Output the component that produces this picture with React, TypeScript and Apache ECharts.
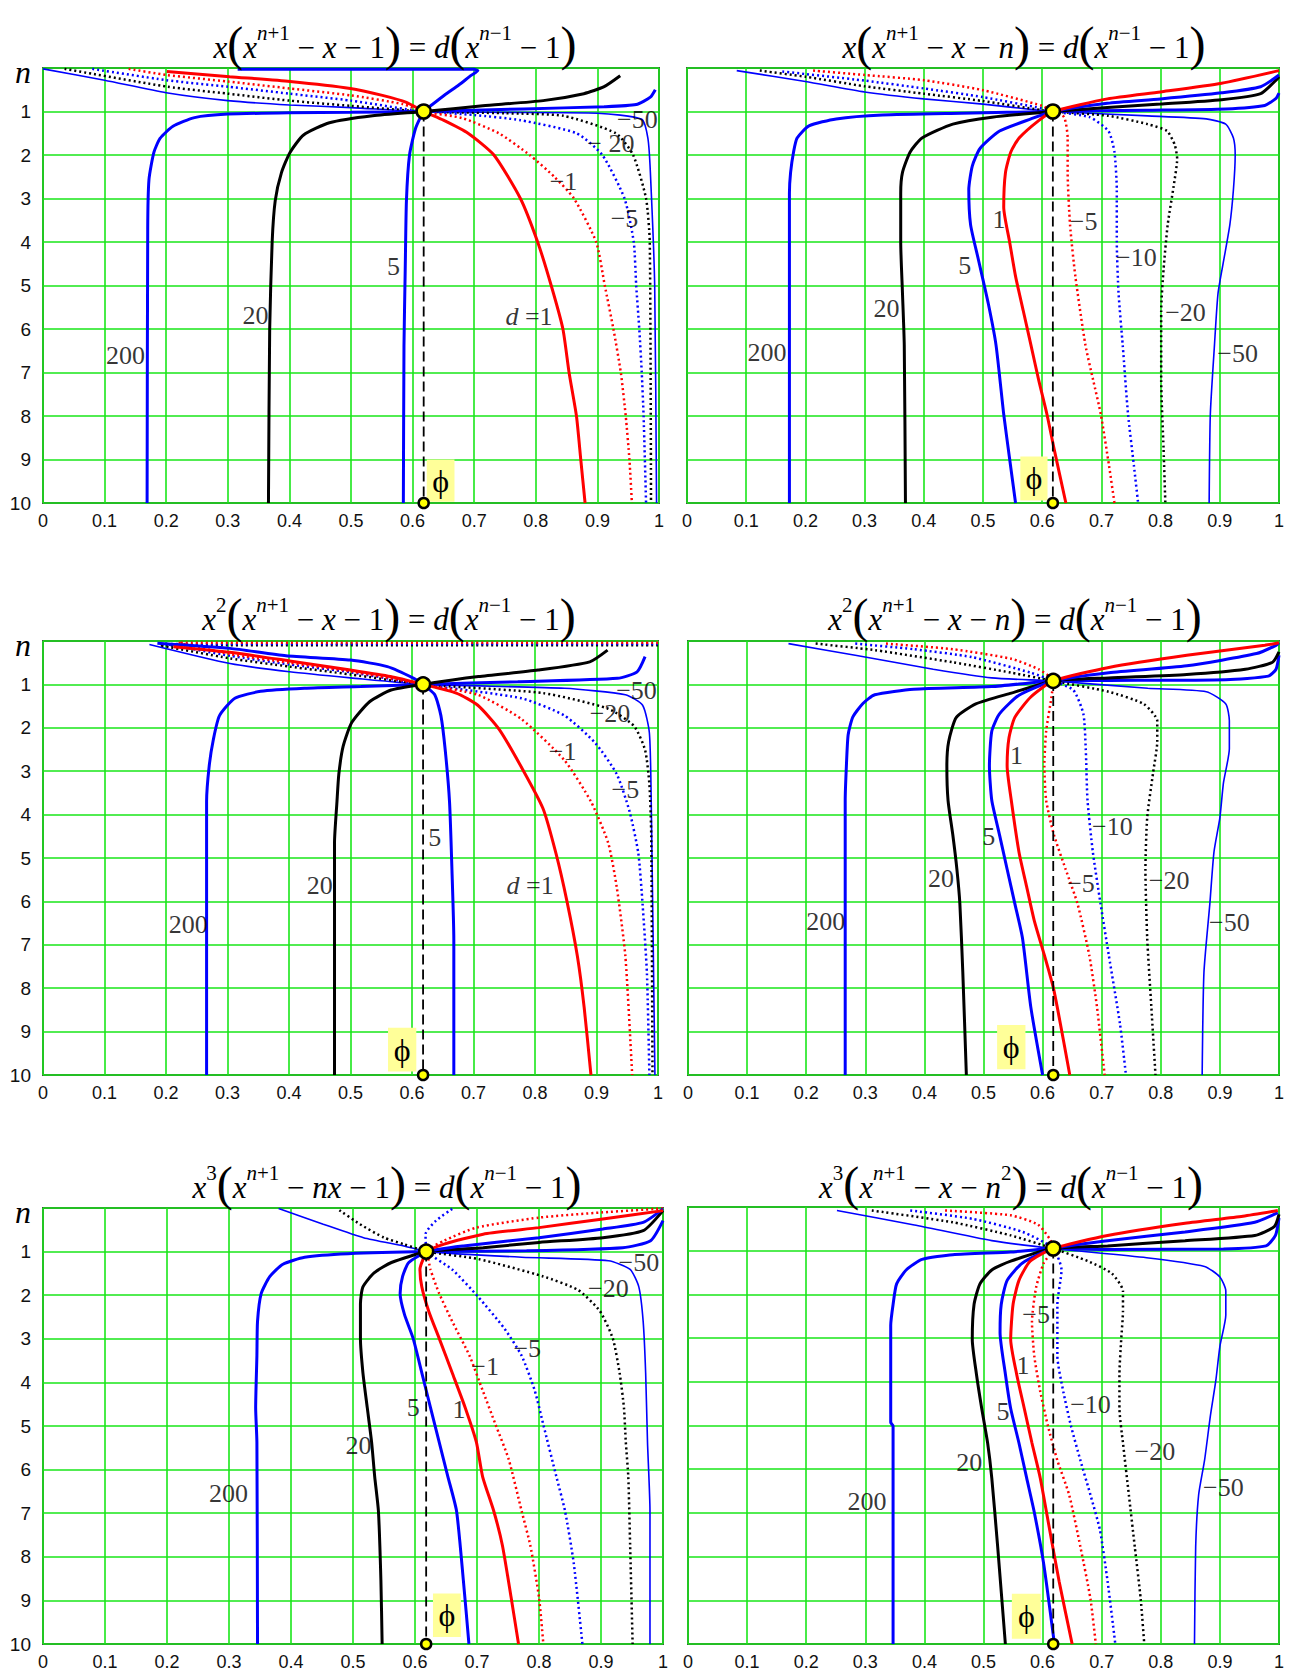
import React, { useEffect, useRef } from "react";
import * as echarts from "echarts";

const SERIF = '"Liberation Serif", "Times New Roman", serif';
const SANS = '"Liberation Sans", Arial, sans-serif';
const PHI = 0.618;

// x tick labels
const xTickLabels = ["0", "0.1", "0.2", "0.3", "0.4", "0.5", "0.6", "0.7", "0.8", "0.9", "1"];

// ---------- Panel 1 : x(x^{n+1} - x - 1) = d(x^{n-1} - 1) ----------
const p1_200 = [[0.994,0.5],[0.986,0.67],[0.963,0.84],[0.911,0.89],[0.78,0.94],[0.618,1],[0.5,1.02],[0.4,1.03],[0.3,1.06],[0.246,1.14],[0.211,1.34],[0.19,1.62],[0.18,1.94],[0.172,2.57],[0.17,3.69],[0.169,10]];
const p1_20 = [[0.937,0.18],[0.911,0.43],[0.878,0.59],[0.812,0.75],[0.714,0.87],[0.618,1],[0.535,1.1],[0.465,1.26],[0.423,1.54],[0.401,1.94],[0.387,2.41],[0.377,3.05],[0.372,4.0],[0.368,6.0],[0.366,10]];
const p1_5 = [[0.316,0.03],[0.5,0.03],[0.7,0.03],[0.706,0.06],[0.695,0.17],[0.675,0.39],[0.652,0.62],[0.632,0.84],[0.618,1],[0.605,1.38],[0.595,2.0],[0.59,3.05],[0.588,4.65],[0.586,6.4],[0.585,10]];
const p1_1 = [[0.201,0.08],[0.303,0.2],[0.401,0.31],[0.499,0.47],[0.551,0.63],[0.59,0.79],[0.618,1],[0.65,1.2],[0.69,1.5],[0.732,2.0],[0.775,3.0],[0.803,4.0],[0.825,5.0],[0.844,6.0],[0.854,7.0],[0.866,8.0],[0.873,9.0],[0.88,10]];
const p1_m1 = [[0.139,0.02],[0.2,0.16],[0.3,0.31],[0.4,0.47],[0.5,0.63],[0.584,0.83],[0.618,1],[0.68,1.15],[0.74,1.5],[0.79,2.0],[0.83,2.5],[0.862,3.0],[0.898,4.0],[0.912,5.0],[0.926,6.0],[0.938,7.0],[0.946,8.0],[0.952,9.0],[0.956,10]];
const p1_m5 = [[0.08,0.02],[0.2,0.28],[0.3,0.43],[0.4,0.59],[0.5,0.75],[0.6,0.97],[0.618,1],[0.7,1.08],[0.775,1.2],[0.866,1.5],[0.908,2.0],[0.944,3.0],[0.959,4.0],[0.963,5.0],[0.968,6.0],[0.972,7.0],[0.975,8.0],[0.979,10]];
const p1_m20 = [[0.035,0.02],[0.202,0.43],[0.3,0.59],[0.4,0.75],[0.5,0.87],[0.618,1],[0.75,1.04],[0.845,1.1],[0.93,1.5],[0.958,2.0],[0.979,3.0],[0.985,4.0],[0.987,10]];
const p1_m50 = [[0.0,0.02],[0.1,0.28],[0.2,0.57],[0.3,0.75],[0.4,0.85],[0.5,0.91],[0.618,1],[0.75,1.02],[0.9,1.04],[0.972,1.18],[0.982,1.62],[0.986,2.4],[0.993,5.0],[0.996,10]];
const p1_labels = [["−50",0.965,1.18],["− 20",0.922,1.74],["−1",0.845,2.61],["−5",0.944,3.45],["5",0.569,4.57],["20",0.345,5.68],["{d|d} =1",0.789,5.72],["200",0.134,6.6]];
const p1_box = [0.623,9.0,0.668,9.97];

// ---------- Panel 2 : x(x^{n+1} - x - n) = d(x^{n-1} - 1) ----------
const p2_200 = [[1,0.58],[0.995,0.7],[0.976,0.86],[0.91,0.94],[0.775,0.97],[0.618,1],[0.463,1.04],[0.33,1.08],[0.252,1.17],[0.206,1.33],[0.186,1.61],[0.18,1.93],[0.175,2.4],[0.173,2.88],[0.173,10]];
const p2_20 = [[1,0.2],[0.995,0.28],[0.969,0.59],[0.903,0.73],[0.8,0.83],[0.71,0.91],[0.618,1],[0.515,1.13],[0.449,1.29],[0.397,1.61],[0.377,1.93],[0.364,2.4],[0.361,2.88],[0.361,4.0],[0.364,5.18],[0.367,6.37],[0.369,10]];
const p2_5 = [[1,0.16],[0.969,0.43],[0.903,0.57],[0.8,0.71],[0.71,0.81],[0.618,1],[0.581,1.17],[0.528,1.45],[0.495,1.85],[0.482,2.25],[0.476,2.8],[0.479,3.6],[0.492,4.39],[0.509,5.42],[0.522,6.37],[0.535,7.96],[0.545,8.99],[0.555,10]];
const p2_1 = [[1,0.06],[0.903,0.35],[0.8,0.55],[0.71,0.71],[0.618,1],[0.594,1.21],[0.561,1.61],[0.547,1.93],[0.538,2.4],[0.535,3.2],[0.545,4.0],[0.555,4.79],[0.568,5.58],[0.581,6.37],[0.594,7.17],[0.608,7.96],[0.62,8.75],[0.64,10]];
const p2_m5 = [[0.213,0.06],[0.3,0.16],[0.4,0.28],[0.5,0.51],[0.6,0.87],[0.618,1],[0.637,1.13],[0.643,1.61],[0.643,2.4],[0.647,3.6],[0.656,4.79],[0.673,6.37],[0.686,7.17],[0.699,7.96],[0.713,9.15],[0.722,10]];
const p2_m10 = [[0.161,0.08],[0.3,0.29],[0.4,0.47],[0.5,0.67],[0.6,0.93],[0.618,1],[0.68,1.13],[0.712,1.45],[0.722,1.93],[0.726,2.8],[0.726,4.0],[0.729,5.18],[0.736,6.37],[0.745,7.96],[0.755,9.15],[0.762,10]];
const p2_m20 = [[0.123,0.06],[0.2,0.2],[0.3,0.42],[0.4,0.59],[0.5,0.76],[0.6,0.97],[0.618,1],[0.712,1.1],[0.778,1.29],[0.811,1.45],[0.824,1.77],[0.828,2.09],[0.822,2.72],[0.812,3.6],[0.805,4.63],[0.801,5.58],[0.801,7.17],[0.805,8.75],[0.808,10]];
const p2_m50 = [[0.084,0.06],[0.2,0.31],[0.3,0.55],[0.4,0.71],[0.5,0.83],[0.6,0.98],[0.618,1],[0.778,1.1],[0.877,1.17],[0.91,1.29],[0.923,1.61],[0.926,2.0],[0.923,2.8],[0.917,3.6],[0.907,4.39],[0.897,5.18],[0.891,6.37],[0.884,7.96],[0.882,10]];
const p2_labels = [["1",0.527,3.48],["−5",0.67,3.52],["5",0.469,4.55],["−10",0.759,4.35],["20",0.337,5.54],["−20",0.842,5.62],["200",0.135,6.53],["−50",0.93,6.57]];
const p2_box = [0.563,8.93,0.609,9.94];

// ---------- Panel 3 : x^2(x^{n+1} - x - 1) = d(x^{n-1} - 1) ----------
const p3_200 = [[0.979,0.36],[0.966,0.71],[0.934,0.86],[0.772,0.94],[0.618,1],[0.517,1.05],[0.425,1.09],[0.354,1.16],[0.312,1.32],[0.287,1.72],[0.277,2.27],[0.27,2.91],[0.266,3.7],[0.266,10]];
const p3_20 = [[0.918,0.21],[0.889,0.48],[0.805,0.67],[0.708,0.82],[0.618,1],[0.566,1.13],[0.531,1.4],[0.502,1.88],[0.488,2.43],[0.481,3.07],[0.478,3.7],[0.474,4.65],[0.474,10]];
const p3_5 = [[0.186,0.05],[0.304,0.17],[0.395,0.34],[0.5,0.44],[0.56,0.59],[0.603,0.86],[0.618,1],[0.637,1.24],[0.647,1.72],[0.654,2.51],[0.661,3.7],[0.665,5.29],[0.668,6.87],[0.668,10]];
const p3_1 = [[0.212,0.13],[0.304,0.26],[0.401,0.46],[0.5,0.67],[0.565,0.82],[0.618,1],[0.672,1.2],[0.707,1.48],[0.742,2.04],[0.778,2.91],[0.813,3.86],[0.834,4.89],[0.852,6.0],[0.869,7.27],[0.88,8.45],[0.891,10]];
const p3_m1 = [[1,0.04],[0.22,0.04],[0.304,0.3],[0.4,0.5],[0.5,0.7],[0.618,1],[0.707,1.24],[0.778,1.8],[0.848,2.75],[0.891,3.7],[0.919,4.65],[0.933,5.68],[0.947,7.27],[0.958,10]];
const p3_m5 = [[1,0.07],[0.2,0.07],[0.304,0.34],[0.4,0.54],[0.5,0.72],[0.618,1],[0.778,1.32],[0.848,1.72],[0.898,2.35],[0.933,3.07],[0.954,3.94],[0.968,4.89],[0.975,6.08],[0.982,7.66],[0.986,10]];
const p3_m20 = [[1,0.1],[0.19,0.1],[0.304,0.4],[0.401,0.59],[0.5,0.77],[0.618,1],[0.813,1.2],[0.919,1.56],[0.961,1.96],[0.979,2.51],[0.986,3.3],[0.989,4.49],[0.991,10]];
const p3_m50 = [[0.173,0.08],[0.304,0.52],[0.401,0.71],[0.5,0.85],[0.618,1],[0.848,1.09],[0.947,1.24],[0.975,1.48],[0.986,2.12],[0.989,3.7],[0.995,10]];
const p3_labels = [["−50",0.965,1.13],["−20",0.922,1.68],["−1",0.845,2.55],["−5",0.947,3.42],["5",0.637,4.53],["20",0.45,5.64],["{d|d} =1",0.792,5.64],["200",0.236,6.54]];
const p3_box = [0.561,8.91,0.607,9.92];

// ---------- Panel 4 : x^2(x^{n+1} - x - n) = d(x^{n-1} - 1) ----------
const p4_200 = [[1,0.33],[0.995,0.65],[0.982,0.81],[0.91,0.89],[0.712,0.91],[0.618,0.92],[0.514,1.05],[0.382,1.11],[0.316,1.24],[0.296,1.44],[0.279,1.75],[0.271,2.16],[0.268,2.88],[0.266,3.67],[0.266,10]];
const p4_20 = [[1,0.25],[0.989,0.49],[0.943,0.65],[0.844,0.77],[0.712,0.85],[0.618,0.92],[0.547,1.2],[0.487,1.45],[0.454,1.76],[0.441,2.32],[0.438,2.88],[0.44,3.67],[0.448,4.46],[0.455,5.26],[0.46,6.05],[0.465,7.64],[0.471,10]];
const p4_5 = [[1,0.04],[0.995,0.1],[0.962,0.29],[0.844,0.57],[0.712,0.73],[0.618,0.92],[0.56,1.25],[0.527,1.68],[0.514,2.08],[0.51,2.88],[0.514,3.67],[0.527,4.46],[0.54,5.26],[0.553,6.05],[0.566,6.85],[0.58,8.43],[0.6,10]];
const p4_1 = [[1,0.04],[0.976,0.1],[0.844,0.33],[0.712,0.61],[0.618,0.92],[0.58,1.29],[0.553,1.76],[0.543,2.24],[0.54,2.88],[0.547,3.67],[0.56,4.86],[0.573,5.66],[0.586,6.45],[0.603,7.24],[0.619,8.04],[0.646,10]];
const p4_m5 = [[0.335,0.06],[0.448,0.19],[0.547,0.41],[0.593,0.65],[0.618,0.92],[0.615,1.29],[0.606,2.08],[0.603,2.88],[0.606,3.67],[0.619,4.46],[0.639,5.26],[0.659,6.05],[0.679,7.24],[0.692,8.43],[0.705,10]];
const p4_m10 = [[0.283,0.06],[0.382,0.19],[0.48,0.37],[0.58,0.73],[0.618,0.92],[0.652,1.13],[0.669,1.68],[0.673,2.48],[0.676,3.67],[0.685,4.86],[0.698,6.05],[0.712,7.24],[0.731,8.83],[0.741,10]];
const p4_m20 = [[0.216,0.06],[0.316,0.21],[0.448,0.49],[0.547,0.73],[0.618,0.92],[0.712,1.17],[0.771,1.45],[0.794,1.84],[0.794,2.32],[0.787,3.03],[0.777,4.07],[0.774,5.26],[0.777,6.85],[0.784,8.43],[0.791,10]];
const p4_m50 = [[0.17,0.06],[0.283,0.33],[0.415,0.65],[0.514,0.85],[0.618,0.92],[0.778,1.09],[0.877,1.17],[0.91,1.45],[0.916,1.84],[0.916,2.48],[0.906,3.27],[0.9,4.07],[0.89,4.86],[0.883,6.05],[0.873,7.64],[0.87,10]];
const p4_labels = [["1",0.556,2.64],["−10",0.718,4.27],["5",0.509,4.5],["20",0.428,5.48],["−5",0.665,5.59],["−20",0.814,5.52],["200",0.233,6.47],["−50",0.916,6.49]];
const p4_box = [0.523,8.85,0.571,9.87];

// ---------- Panel 5 : x^3(x^{n+1} - nx - 1) = d(x^{n-1} - 1) ----------
const p5_200 = [[1,0.29],[0.98,0.75],[0.935,0.91],[0.78,0.98],[0.62,1],[0.492,1.05],[0.422,1.13],[0.387,1.29],[0.366,1.57],[0.352,1.96],[0.346,2.6],[0.345,3.39],[0.343,4.58],[0.345,5.37],[0.346,10]];
const p5_20 = [[1,0.06],[0.968,0.52],[0.903,0.68],[0.8,0.79],[0.71,0.91],[0.62,1],[0.562,1.25],[0.534,1.49],[0.516,1.81],[0.512,2.2],[0.512,2.99],[0.516,3.78],[0.523,4.58],[0.53,5.37],[0.535,6.16],[0.541,6.95],[0.545,8.54],[0.547,10]];
const p5_5 = [[1,0.02],[0.968,0.33],[0.903,0.48],[0.8,0.68],[0.678,0.87],[0.62,1],[0.59,1.25],[0.58,1.57],[0.576,1.96],[0.583,2.44],[0.597,2.99],[0.611,3.78],[0.625,4.58],[0.639,5.37],[0.653,6.16],[0.667,6.95],[0.678,8.54],[0.687,10]];
const p5_1 = [[1,0.06],[0.903,0.25],[0.8,0.45],[0.71,0.6],[0.647,0.83],[0.62,1],[0.608,1.41],[0.611,1.81],[0.622,2.36],[0.639,2.99],[0.66,3.78],[0.681,4.58],[0.699,5.37],[0.709,6.16],[0.727,6.95],[0.741,7.74],[0.755,8.93],[0.767,10]];
const p5_m1 = [[1,0.01],[0.903,0.1],[0.8,0.22],[0.699,0.45],[0.647,0.75],[0.62,1],[0.625,1.41],[0.639,1.96],[0.66,2.6],[0.688,3.39],[0.709,4.18],[0.73,4.97],[0.751,5.76],[0.772,6.95],[0.786,7.74],[0.8,8.93],[0.807,10]];
const p5_m5 = [[0.66,0.02],[0.634,0.29],[0.617,0.6],[0.62,1],[0.66,1.41],[0.702,2.04],[0.744,2.76],[0.772,3.39],[0.793,4.18],[0.807,4.97],[0.828,6.16],[0.842,6.95],[0.856,8.14],[0.87,10]];
const p5_m20 = [[0.478,0.05],[0.511,0.37],[0.55,0.68],[0.582,0.83],[0.62,1],[0.702,1.17],[0.807,1.57],[0.863,1.88],[0.898,2.36],[0.919,2.99],[0.93,3.78],[0.937,4.58],[0.94,5.37],[0.944,6.16],[0.947,7.74],[0.951,10]];
const p5_m50 = [[0.38,0.01],[0.452,0.37],[0.517,0.68],[0.582,0.87],[0.62,1],[0.772,1.13],[0.912,1.21],[0.947,1.41],[0.961,1.81],[0.968,2.6],[0.972,3.78],[0.975,5.37],[0.979,6.95],[0.979,10]];
const p5_labels = [["−50",0.961,1.25],["−20",0.912,1.84],["−5",0.781,3.23],["−1",0.713,3.63],["5",0.597,4.58],["1",0.671,4.62],["20",0.509,5.45],["200",0.299,6.54]];
const p5_box = [0.629,8.84,0.674,9.84];

// ---------- Panel 6 : x^3(x^{n+1} - x - n^2) = d(x^{n-1} - 1) ----------
const p6_200 = [[1,0.25],[0.994,0.65],[0.978,0.89],[0.906,0.96],[0.71,0.97],[0.618,0.95],[0.546,1.03],[0.448,1.09],[0.396,1.2],[0.37,1.43],[0.353,1.76],[0.347,2.23],[0.343,2.71],[0.343,4.93],[0.347,5.01],[0.347,10]];
const p6_20 = [[1,0.17],[0.992,0.45],[0.959,0.65],[0.841,0.77],[0.71,0.89],[0.618,0.95],[0.546,1.24],[0.514,1.44],[0.494,1.76],[0.484,2.23],[0.481,3.03],[0.488,3.82],[0.497,4.61],[0.507,5.4],[0.514,6.2],[0.524,7.78],[0.537,10]];
const p6_5 = [[0.998,0.13],[0.959,0.35],[0.841,0.57],[0.71,0.77],[0.618,0.95],[0.566,1.28],[0.54,1.68],[0.53,2.23],[0.528,2.87],[0.537,3.82],[0.546,4.61],[0.56,5.4],[0.573,6.2],[0.586,6.99],[0.602,8.18],[0.62,10]];
const p6_1 = [[0.998,0.08],[0.939,0.21],[0.841,0.37],[0.71,0.65],[0.618,0.95],[0.579,1.24],[0.56,1.68],[0.55,2.23],[0.546,3.03],[0.556,3.82],[0.569,4.61],[0.582,5.4],[0.596,6.2],[0.612,7.39],[0.628,8.57],[0.65,10]];
const p6_m5 = [[0.435,0.08],[0.546,0.19],[0.592,0.4],[0.612,0.73],[0.618,0.95],[0.602,1.28],[0.589,1.84],[0.582,2.63],[0.586,3.42],[0.596,4.22],[0.609,5.01],[0.625,5.8],[0.645,6.59],[0.664,7.78],[0.681,8.97],[0.69,10]];
const p6_m10 = [[0.376,0.08],[0.481,0.27],[0.566,0.57],[0.618,0.95],[0.632,1.44],[0.625,2.23],[0.625,3.42],[0.635,4.22],[0.648,5.01],[0.664,5.8],[0.681,6.59],[0.697,7.39],[0.71,8.57],[0.723,10]];
const p6_m20 = [[0.311,0.08],[0.448,0.35],[0.546,0.65],[0.618,0.95],[0.677,1.24],[0.717,1.52],[0.736,1.92],[0.736,2.39],[0.733,3.03],[0.73,3.82],[0.73,4.61],[0.736,5.4],[0.746,6.59],[0.756,7.78],[0.766,8.97],[0.772,10]];
const p6_m50 = [[0.252,0.08],[0.383,0.41],[0.514,0.77],[0.618,0.95],[0.776,1.16],[0.874,1.36],[0.9,1.6],[0.91,1.92],[0.91,2.47],[0.9,3.19],[0.893,3.98],[0.884,4.77],[0.874,5.8],[0.864,6.59],[0.859,7.78],[0.857,10]];
const p6_labels = [["−5",0.589,2.47],["1",0.567,3.62],["−10",0.681,4.53],["5",0.533,4.69],["20",0.476,5.84],["−20",0.79,5.6],["200",0.303,6.74],["−50",0.906,6.43]];
const p6_box = [0.548,8.85,0.597,9.88];

// phi-point heights (n) of each panel
const phiN = [1, 1, 1, 0.92, 1, 0.95];

// ---------- styles ----------
const STYLES: Record<string, any> = {
  blue: { color: "#0000ff", width: 3, type: "solid", z: 5 },
  black: { color: "#000000", width: 3, type: "solid", z: 5 },
  red: { color: "#ff0000", width: 3, type: "solid", z: 6 },
  redDot: { color: "#ff0000", width: 2.5, type: [2, 3], z: 3 },
  blueDot: { color: "#0000ff", width: 2.5, type: [2, 3], z: 3 },
  blackDot: { color: "#000000", width: 2.5, type: [2, 3], z: 3 },
  blueThin: { color: "#0000ff", width: 1.6, type: "solid", z: 3 },
};

const SUP1 = "{sv|n}{sr|+1}";
const SUPM = "{sv|n}{sr|−1}";
const RHS = "{r| = }{v|d}{p|(}{v|x}" + SUPM + "{r| − 1}{p|)}";

const PANELS = [
  {
    grid: { left: 43, top: 68, width: 616, height: 435 },
    title: { text: "{v|x}{p|(}{v|x}" + SUP1 + "{r| − }{v|x}{r| − 1}{p|)}" + RHS, left: 390, top: 13 },
    yLabels: true,
    curves: [[p1_m50, "blueThin"], [p1_m20, "blackDot"], [p1_m5, "blueDot"], [p1_m1, "redDot"], [p1_200, "blue"], [p1_20, "black"], [p1_5, "blue"], [p1_1, "red"]],
    labels: p1_labels, box: p1_box,
  },
  {
    grid: { left: 687, top: 68, width: 592, height: 435 },
    title: { text: "{v|x}{p|(}{v|x}" + SUP1 + "{r| − }{v|x}{r| − }{v|n}{p|)}" + RHS, left: 1019, top: 13 },
    yLabels: false,
    curves: [[p2_m50, "blueThin"], [p2_m20, "blackDot"], [p2_m10, "blueDot"], [p2_m5, "redDot"], [p2_200, "blue"], [p2_20, "black"], [p2_5, "blue"], [p2_1, "red"]],
    labels: p2_labels, box: p2_box,
  },
  {
    grid: { left: 43, top: 641, width: 615, height: 434 },
    title: { text: "{v|x}{sr|2}{p|(}{v|x}" + SUP1 + "{r| − }{v|x}{r| − 1}{p|)}" + RHS, left: 384, top: 585 },
    yLabels: true,
    curves: [[p3_m50, "blueThin"], [p3_m20, "blackDot"], [p3_m5, "blueDot"], [p3_m1, "redDot"], [p3_200, "blue"], [p3_20, "black"], [p3_5, "blue"], [p3_1, "red"]],
    labels: p3_labels, box: p3_box,
  },
  {
    grid: { left: 688, top: 641, width: 591, height: 434 },
    title: { text: "{v|x}{sr|2}{p|(}{v|x}" + SUP1 + "{r| − }{v|x}{r| − }{v|n}{p|)}" + RHS, left: 1010, top: 585 },
    yLabels: false,
    curves: [[p4_m50, "blueThin"], [p4_m20, "blackDot"], [p4_m10, "blueDot"], [p4_m5, "redDot"], [p4_200, "blue"], [p4_20, "black"], [p4_5, "blue"], [p4_1, "red"]],
    labels: p4_labels, box: p4_box,
  },
  {
    grid: { left: 43, top: 1208, width: 620, height: 436 },
    title: { text: "{v|x}{sr|3}{p|(}{v|x}" + SUP1 + "{r| − }{v|nx}{r| − 1}{p|)}" + RHS, left: 382, top: 1153 },
    yLabels: true,
    curves: [[p5_m50, "blueThin"], [p5_m20, "blackDot"], [p5_m5, "blueDot"], [p5_m1, "redDot"], [p5_200, "blue"], [p5_20, "black"], [p5_5, "blue"], [p5_1, "red"]],
    labels: p5_labels, box: p5_box,
  },
  {
    grid: { left: 688, top: 1207, width: 591, height: 437 },
    title: { text: "{v|x}{sr|3}{p|(}{v|x}" + SUP1 + "{r| − }{v|x}{r| − }{v|n}{sr|2}{p|)}" + RHS, left: 1006, top: 1153 },
    yLabels: false,
    curves: [[p6_m50, "blueThin"], [p6_m20, "blackDot"], [p6_m10, "blueDot"], [p6_m5, "redDot"], [p6_200, "blue"], [p6_20, "black"], [p6_5, "blue"], [p6_1, "red"]],
    labels: p6_labels, box: p6_box,
  },
];

const titleRich = {
  v: { fontFamily: SERIF, fontStyle: "italic", fontWeight: "normal", fontSize: 31, color: "#000", lineHeight: 34, verticalAlign: "middle", padding: [8, 0, 0, 0] },
  r: { fontFamily: SERIF, fontStyle: "normal", fontWeight: "normal", fontSize: 31, color: "#000", lineHeight: 34, verticalAlign: "middle", padding: [8, 0, 0, 0] },
  sv: { fontFamily: SERIF, fontStyle: "italic", fontWeight: "normal", fontSize: 21, color: "#000", lineHeight: 20, verticalAlign: "top", padding: [4, 0, 0, 0] },
  sr: { fontFamily: SERIF, fontStyle: "normal", fontWeight: "normal", fontSize: 21, color: "#000", lineHeight: 20, verticalAlign: "top", padding: [4, 0, 0, 0] },
  p: { fontFamily: SERIF, fontStyle: "normal", fontWeight: "normal", fontSize: 48, color: "#000", lineHeight: 50, verticalAlign: "middle" },
};

function buildOption() {
  const grids: any[] = [];
  const xAxes: any[] = [];
  const yAxes: any[] = [];
  const titles: any[] = [];
  const series: any[] = [];
  const GREEN = "#19e619";

  PANELS.forEach((P, i) => {
    grids.push({ ...P.grid, show: true, borderColor: "#4a4a4a", borderWidth: 2, backgroundColor: "#ffffff", containLabel: false });
    titles.push({
      text: P.title.text, left: P.title.left, top: P.title.top, textAlign: "center",
      textStyle: { fontWeight: "normal", fontFamily: SERIF, rich: titleRich },
    });
    xAxes.push({
      gridIndex: i, type: "value", min: 0, max: 1, interval: 0.1,
      axisLine: { show: false }, axisTick: { show: false },
      splitLine: { show: true, lineStyle: { color: GREEN, width: 1.6 } },
      axisLabel: {
        show: true, fontFamily: SANS, fontSize: 18, color: "#111", margin: 9,
        formatter: (v: number) => xTickLabels[Math.round(v * 10)] ?? "",
        showMinLabel: true, showMaxLabel: true,
      },
    });
    yAxes.push({
      gridIndex: i, type: "value", min: 0, max: 10, interval: 1, inverse: true,
      axisLine: { show: false }, axisTick: { show: false },
      splitLine: { show: true, lineStyle: { color: GREEN, width: 1.6 } },
      axisLabel: {
        show: P.yLabels, fontFamily: SANS, fontSize: 19, color: "#111", margin: 12,
        formatter: (v: number) => (v === 0 ? "{n|n}" : String(v)),
        rich: { n: { fontFamily: SERIF, fontStyle: "italic", fontSize: 32, color: "#000", padding: [8, 0, 0, 0] } },
      },
    });

    // curves
    P.curves.forEach(([data, key]: any) => {
      const st = STYLES[key];
      series.push({
        type: "line", xAxisIndex: i, yAxisIndex: i, data, showSymbol: false, symbol: "none",
        smooth: 0.2, z: st.z, silent: true,
        lineStyle: { color: st.color, width: st.width, type: st.type, cap: "butt" },
      });
    });

    // dashed phi line
    series.push({
      type: "line", xAxisIndex: i, yAxisIndex: i, data: [[PHI, phiN[i]], [PHI, 10]], showSymbol: false, symbol: "none",
      z: 7, silent: true, lineStyle: { color: "#000", width: 1.8, type: [10, 5] },
    });

    // labels + phi box
    const bx = P.box;
    series.push({
      type: "scatter", xAxisIndex: i, yAxisIndex: i, symbolSize: 0, z: 8, silent: true, clip: false,
      data: P.labels.map((l: any) => ({ value: [l[1], l[2]], name: l[0] })),
      label: {
        show: true, position: "inside", formatter: (p: any) => p.name,
        fontFamily: SERIF, fontSize: 26, color: "#000",
        rich: { d: { fontFamily: SERIF, fontStyle: "italic", fontSize: 26, color: "#000" } },
      },
      markArea: {
        silent: true,
        itemStyle: { color: "#ffff99", opacity: 1 },
        label: { show: true, position: "inside", formatter: "ϕ", fontFamily: SERIF, fontSize: 32, color: "#000" },
        data: [[{ coord: [bx[0], bx[1]] }, { coord: [bx[2], bx[3]] }]],
      },
    });

    // phi points
    series.push({
      type: "scatter", xAxisIndex: i, yAxisIndex: i, z: 10, silent: true, clip: false,
      data: [{ value: [PHI, phiN[i]], symbolSize: 14 }, { value: [PHI, 10], symbolSize: 10 }],
      itemStyle: { color: "#ffff00", borderColor: "#000", borderWidth: 2.5, opacity: 1 },
    });
  });

  return {
    animation: false,
    backgroundColor: "#ffffff",
    title: titles,
    grid: grids,
    xAxis: xAxes,
    yAxis: yAxes,
    series,
  };
}

export default function App() {
  const ref = useRef<HTMLDivElement>(null);
  useEffect(() => {
    if (!ref.current) return;
    const chart = echarts.init(ref.current, null, { renderer: "svg" });
    chart.setOption(buildOption() as any);
    return () => chart.dispose();
  }, []);
  return (
    <div
      ref={ref}
      style={{ position: "absolute", left: 0, top: 0, width: 1290, height: 1671, background: "#fff" }}
    />
  );
}
